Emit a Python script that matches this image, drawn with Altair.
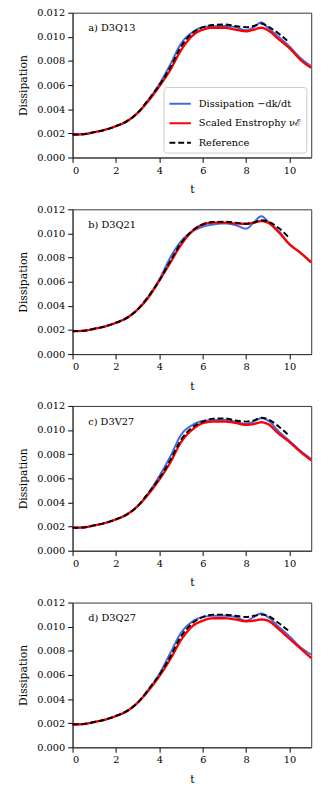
import altair as alt
import pandas as pd

T = [0, 0.5, 1, 1.5, 2, 2.5, 3, 3.5, 4, 4.5, 5, 5.5, 6, 6.5, 7, 7.5, 8, 8.35, 8.7, 9, 9.5, 10, 10.5, 11]
T_REF = T[:22]

EARLY = [0.0019, 0.00193, 0.0021, 0.0023, 0.0026, 0.0030, 0.0037, 0.0048]
EARLY_RED = [0.0019, 0.00193, 0.0021, 0.0023, 0.0026, 0.0030, 0.0037, 0.0047]

PANELS = ["a) D3Q13", "b) D3Q21", "c) D3V27", "d) D3Q27"]

BLUE = [
    EARLY + [0.0061, 0.0077, 0.00945, 0.01035, 0.0108, 0.01088, 0.0109, 0.0108, 0.01055, 0.0108, 0.0112, 0.01075, 0.0100, 0.0092, 0.00825, 0.00757],
    EARLY + [0.0062, 0.0080, 0.00935, 0.01015, 0.01056, 0.01075, 0.01083, 0.0107, 0.0104, 0.0109, 0.01143, 0.0110, 0.0102, 0.0091, 0.0084, 0.0076],
    EARLY + [0.0062, 0.0078, 0.0096, 0.0104, 0.01076, 0.01083, 0.01084, 0.0107, 0.01051, 0.0107, 0.01098, 0.0108, 0.0099, 0.0091, 0.0083, 0.0076],
    EARLY + [0.0061, 0.0078, 0.0095, 0.0104, 0.0108, 0.0109, 0.0109, 0.0108, 0.0105, 0.0108, 0.0111, 0.0108, 0.0100, 0.0092, 0.0083, 0.0077],
]
RED = [
    EARLY_RED + [0.0059, 0.00725, 0.0089, 0.01005, 0.0106, 0.01075, 0.01075, 0.0106, 0.01046, 0.0106, 0.01075, 0.01055, 0.0098, 0.00905, 0.0081, 0.00743],
    EARLY_RED + [0.0061, 0.00757, 0.00906, 0.01015, 0.01075, 0.0109, 0.0109, 0.01083, 0.0108, 0.0109, 0.01102, 0.0109, 0.0101, 0.0091, 0.0084, 0.0076],
    EARLY_RED + [0.0059, 0.0073, 0.0090, 0.0100, 0.01057, 0.0107, 0.0107, 0.0106, 0.01043, 0.0105, 0.01065, 0.0105, 0.0097, 0.0090, 0.0082, 0.0075],
    EARLY_RED + [0.0059, 0.0073, 0.0089, 0.0100, 0.0105, 0.0107, 0.0107, 0.0106, 0.01045, 0.0105, 0.0106, 0.0105, 0.0098, 0.0090, 0.0082, 0.0074],
]
REF = [
    EARLY + [0.0060, 0.00745, 0.0092, 0.01027, 0.0108, 0.01098, 0.01103, 0.0109, 0.0108, 0.0109, 0.0111, 0.01086, 0.01027, 0.00951],
    EARLY + [0.0061, 0.0077, 0.0092, 0.0102, 0.01075, 0.01095, 0.01097, 0.0109, 0.0108, 0.0109, 0.0111, 0.0110, 0.01045, 0.0096],
    EARLY + [0.0060, 0.0075, 0.0092, 0.0102, 0.0107, 0.01095, 0.01097, 0.0108, 0.0107, 0.0108, 0.01103, 0.0109, 0.0103, 0.0095],
    EARLY + [0.0060, 0.0075, 0.0092, 0.01025, 0.0108, 0.0110, 0.0110, 0.0109, 0.0108, 0.0109, 0.0110, 0.0109, 0.0103, 0.0096],
]

SERIES = ["Dissipation \u2212dk/dt", "Scaled Enstrophy \u03bd\u2130", "Reference"]
COLORS = ["#4169e1", "#ff0000", "#000000"]
DASHES = [[1, 0], [1, 0], [6, 3]]

FONT = "DejaVu Serif"


def make_panel(i, show_legend):
    df_b = pd.DataFrame({"t": T, "v": BLUE[i], "s": SERIES[0]})
    df_r = pd.DataFrame({"t": T, "v": RED[i], "s": SERIES[1]})
    df_k = pd.DataFrame({"t": T_REF, "v": REF[i], "s": SERIES[2]})

    if show_legend:
        legend = alt.Legend(
            title=None, orient="bottom-right", offset=5, fillColor="white",
            strokeColor="#cccccc", cornerRadius=3, padding=5, labelFont=FONT,
            labelFontSize=10, symbolType="stroke", symbolSize=480,
            symbolStrokeWidth=2, rowPadding=3, labelLimit=200, labelOffset=7,
        )
    else:
        legend = None

    x = alt.X("t:Q", scale=alt.Scale(domain=[0, 11], nice=False),
              axis=alt.Axis(values=[0, 2, 4, 6, 8, 10], title="t"))
    y = alt.Y("v:Q", scale=alt.Scale(domain=[0, 0.012], nice=False),
              axis=alt.Axis(values=[0, 0.002, 0.004, 0.006, 0.008, 0.010, 0.012],
                            format=".3f", title="Dissipation"))
    color = alt.Color("s:N", scale=alt.Scale(domain=SERIES, range=COLORS), legend=legend)
    dash = alt.StrokeDash("s:N", scale=alt.Scale(domain=SERIES, range=DASHES), legend=legend)

    def layer(df, w):
        return alt.Chart(df).mark_line(strokeWidth=w, interpolate="monotone").encode(
            x=x, y=y, color=color, strokeDash=dash)

    label = alt.Chart(pd.DataFrame({"s": [PANELS[i]]})).mark_text(
        align="left", baseline="middle", font=FONT, fontSize=10, color="black"
    ).encode(x=alt.value(16), y=alt.value(16), text="s:N")

    return alt.layer(layer(df_b, 2), layer(df_r, 2.4), layer(df_k, 2), label).properties(
        width=244, height=148)


chart = alt.vconcat(
    *[make_panel(i, i == 0) for i in range(4)], spacing=8
).resolve_scale(color="independent", strokeDash="independent").configure_view(
    stroke="#333333", strokeWidth=1
).configure_axis(
    labelFont=FONT, labelFontSize=10, labelColor="black", titleFont=FONT,
    titleFontSize=11, titleFontWeight="normal", titleColor="black", grid=False,
    domainColor="#333333", tickColor="black", tickSize=5, labelPadding=3,
).configure_axisY(titlePadding=8).configure_axisX(titlePadding=9).properties(
    padding={"top": -10, "left": 9, "right": 5, "bottom": 5})

chart.save("out.html", embed_options={"renderer": "svg", "actions": False})
